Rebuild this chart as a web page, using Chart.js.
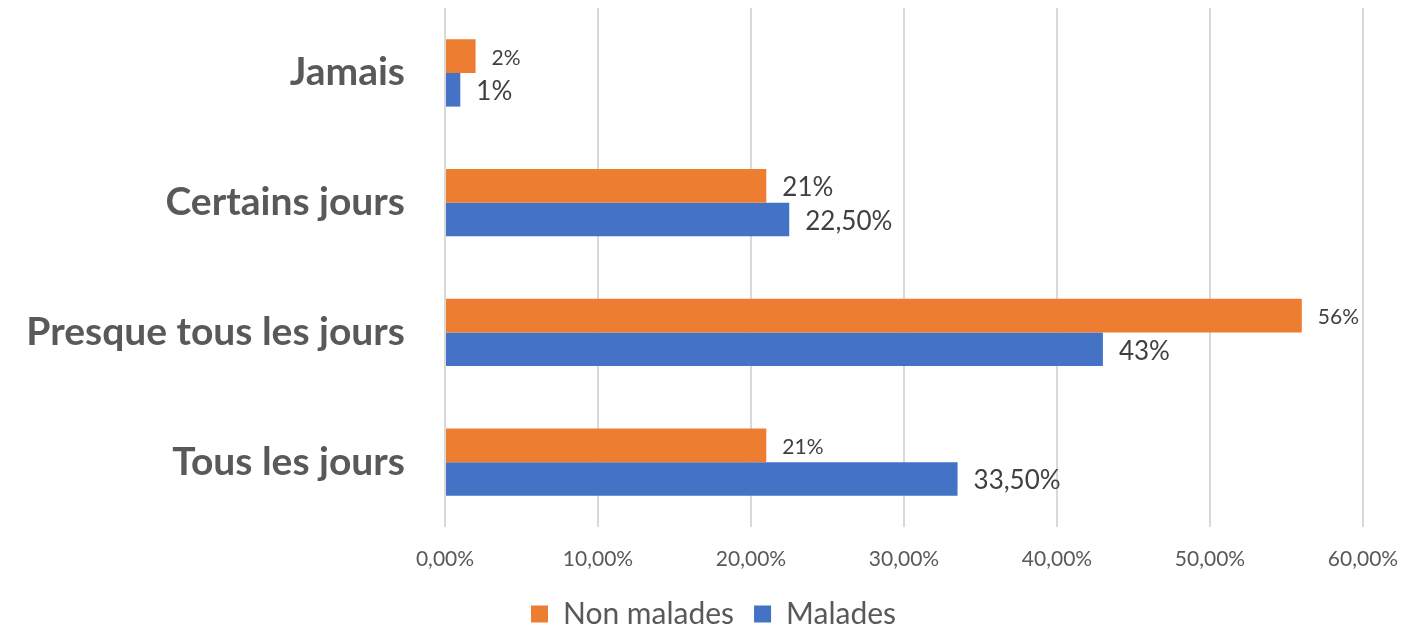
<!DOCTYPE html>
<html>
<head>
<meta charset="utf-8">
<script src="https://cdn.jsdelivr.net/npm/chart.js@4/dist/chart.umd.min.js"></script>
<style>
  html, body { margin: 0; padding: 0; background: #fff; }
  #wrap { width: 1402px; height: 627px; }
</style>
</head>
<body>
<div id="wrap"><canvas id="canvas"></canvas></div>
<script>
var categories = ["Jamais", "Certains jours", "Presque tous les jours", "Tous les jours"]
var nonMalades = [2, 21, 56, 21]
var malades = [1, 22.5, 43, 33.5]
var xTicks = [0, 10, 20, 30, 40, 50, 60]

function fmtPct(v, dec) {
    return v.toFixed(dec).replace(".", ",") + "%"
}

// labels drawn at bar end, like the excel data labels
var barLabels = {
    id: "barLabels",
    afterDatasetsDraw: function(chart, args, opts) {
        var ctx = chart.ctx
        ctx.save()
        ctx.fillStyle = "#404040"
        ctx.textBaseline = "middle"
        ctx.textAlign = "left"
        chart.data.datasets.forEach(function(ds, i) {
            var meta = chart.getDatasetMeta(i)
            meta.data.forEach(function(bar, j) {
                var v = ds.data[j]
                var txt = Number.isInteger(v) ? v + "%" : fmtPct(v, 2)
                ctx.font = opts.sizes[i][j] + "px Lato"
                ctx.fillText(txt, bar.x + 16, bar.y + 2)
            })
        })
        ctx.restore()
    }
}

var chartData = {
    labels: categories,
    datasets: [{
        label: "Non malades",
        data: nonMalades,
        backgroundColor: "#ED7D31",
        borderWidth: 0
    }, {
        label: "Malades",
        data: malades,
        backgroundColor: "#4472C4",
        borderWidth: 0
    }]
}

var options = {
    indexAxis: "y",
    responsive: true,
    maintainAspectRatio: false,
    animation: false,
    layout: { padding: { top: 8, right: 0, left: 25, bottom: -12 } },
    datasets: { bar: { categoryPercentage: 0.52, barPercentage: 1 } },
    scales: {
        x: {
            min: 0,
            max: 60,
            afterBuildTicks: function(axis) {
                axis.ticks = xTicks.map(function(v) { return { value: v } })
            },
            afterFit: function(axis) {
                axis.height = 52
                axis.paddingLeft = 0
                axis.paddingRight = 0
            },
            border: { display: false },
            grid: { color: "#d9d9d9", lineWidth: 2, drawTicks: false },
            ticks: {
                color: "#595959",
                font: { family: "Lato", size: 21 },
                padding: 20,
                callback: function(v) { return fmtPct(v, 2) }
            }
        },
        y: {
            border: { display: false },
            grid: { display: false, drawTicks: false },
            afterFit: function(axis) {
                axis.width = 420
                axis.paddingTop = 0
                axis.paddingBottom = 0
            },
            ticks: {
                color: "#595959",
                font: { family: "Lato", size: 39, weight: "bold" },
                padding: 40
            }
        },
        // empty right-hand spacer, keeps room for the last x tick label
        ySpace: {
            type: "category",
            position: "right",
            border: { display: false },
            grid: { display: false, drawTicks: false },
            ticks: { display: false },
            afterFit: function(axis) {
                axis.width = 39
                axis.paddingTop = 0
                axis.paddingBottom = 0
            }
        }
    },
    plugins: {
        legend: {
            position: "bottom",
            labels: {
                color: "#595959",
                font: { family: "Lato", size: 30 },
                boxWidth: 17,
                boxHeight: 17,
                padding: 20
            }
        },
        tooltip: { enabled: false },
        barLabels: {
            sizes: [[21, 26, 21, 21], [26, 26, 26, 26]]
        }
    }
}

var myChart = new Chart(document.getElementById("canvas").getContext("2d"), {
    type: "bar",
    data: chartData,
    options: options,
    plugins: [barLabels]
})
</script>
</body>
</html>
